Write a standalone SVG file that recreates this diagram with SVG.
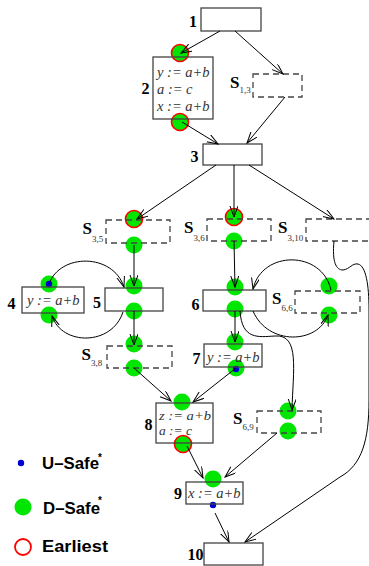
<svg xmlns="http://www.w3.org/2000/svg" width="369" height="566" viewBox="0 0 369 566">
<defs>
<marker id="ah" markerWidth="12" markerHeight="10" refX="11" refY="4" orient="auto" markerUnits="userSpaceOnUse">
<path d="M0,0 L11,4 L0,8" fill="none" stroke="#000" stroke-width="1"/>
</marker>
<style>
.box{fill:none;stroke:#444;stroke-width:1.3}
.sbox{fill:none;stroke:#444;stroke-width:1.3;stroke-dasharray:6,4}
.g{fill:#00e600}
.e{fill:#00e600;stroke:#f00;stroke-width:1.6}
.u{fill:#0000d0}
.lbl{font-family:"Liberation Serif",serif;font-weight:bold;font-size:16px;fill:#000;text-anchor:end}
.s{font-family:"Liberation Serif",serif;font-weight:bold;font-size:17px;fill:#000}
.sub{font-family:"Liberation Serif",serif;font-size:9px;font-weight:normal;fill:#333}
.code{font-family:"Liberation Serif",serif;font-style:italic;font-size:14.5px;fill:#333}
.code2{font-family:"Liberation Serif",serif;font-style:italic;font-size:13px;fill:#333}
.leg{font-family:"Liberation Sans",Arial,sans-serif;font-weight:bold;font-size:16.5px;fill:#000}
.ast{font-family:"Liberation Sans",Arial,sans-serif;font-weight:bold;font-size:10px;fill:#000}
.c{fill:none;stroke:#000;stroke-width:1;marker-end:url(#ah)}
</style>
</defs>
<g id="marks">
<circle class="e" cx="180" cy="53" r="8.5"/>
<circle class="e" cx="180" cy="122" r="8.5"/>
<circle class="e" cx="134" cy="219" r="8.5"/>
<circle class="g" cx="134" cy="245" r="8.5"/>
<circle class="e" cx="234" cy="217" r="8.5"/>
<circle class="g" cx="234" cy="241" r="8.5"/>
<circle class="g" cx="49" cy="284" r="8.5"/>
<circle class="g" cx="49" cy="315" r="8.5"/>
<circle class="g" cx="134" cy="286" r="8.5"/>
<circle class="g" cx="134" cy="311" r="8.5"/>
<circle class="g" cx="134" cy="344" r="8.5"/>
<circle class="g" cx="134" cy="368" r="8.5"/>
<circle class="g" cx="235" cy="287" r="8.5"/>
<circle class="g" cx="235" cy="309" r="8.5"/>
<circle class="g" cx="329" cy="286" r="8.5"/>
<circle class="g" cx="329" cy="315" r="8.5"/>
<circle class="g" cx="235" cy="342" r="8.5"/>
<circle class="g" cx="236" cy="368" r="8.5"/>
<circle class="g" cx="182" cy="402" r="8.5"/>
<circle class="e" cx="183" cy="444" r="8.5"/>
<circle class="g" cx="288" cy="411" r="8.5"/>
<circle class="g" cx="288" cy="431" r="8.5"/>
<circle class="g" cx="213" cy="479" r="8.5"/>
<circle class="u" cx="49" cy="284" r="3.2"/>
<circle class="u" cx="236" cy="369" r="3.2"/>
<circle class="u" cx="213" cy="505" r="3.2"/>
</g>
<g id="n1"><rect class="box" x="201" y="8" width="60" height="23"/><text class="lbl" x="197" y="27">1</text></g>
<g id="n2"><rect class="box" x="153" y="57" width="60" height="62"/><text class="lbl" x="149.5" y="94">2</text>
<text class="code" x="157" y="77">y := a+b</text><text class="code" x="157" y="94">a := c</text><text class="code" x="157" y="111">x := a+b</text></g>
<g id="s13"><rect class="sbox" x="253" y="74" width="49" height="23"/><text class="s" x="230" y="87.5">S<tspan class="sub" dy="5.5">1,3</tspan></text></g>
<g id="n3"><rect class="box" x="203" y="144" width="59" height="21"/><text class="lbl" x="198.5" y="162">3</text></g>
<g id="s35"><rect class="sbox" x="106" y="220" width="64" height="23"/><text class="s" x="82.5" y="233.5">S<tspan class="sub" dy="8">3,5</tspan></text></g>
<g id="s36"><rect class="sbox" x="207" y="219" width="64" height="22"/><text class="s" x="184" y="233">S<tspan class="sub" dy="8">3,6</tspan></text></g>
<g id="s310"><rect class="sbox" x="306" y="219" width="70" height="22"/><text class="s" x="278" y="233">S<tspan class="sub" dy="8">3,10</tspan></text></g>
<g id="n4"><rect class="box" x="22" y="287" width="62" height="26"/><text class="lbl" x="15.5" y="309">4</text><text class="code" x="27" y="305">y := a+b</text></g>
<g id="n5"><rect class="box" x="105" y="288" width="58" height="23"/><text class="lbl" x="101" y="307.5">5</text></g>
<g id="n6"><rect class="box" x="203" y="290" width="63" height="21"/><text class="lbl" x="199.5" y="310">6</text></g>
<g id="s66"><rect class="sbox" x="295" y="291" width="65" height="22"/><text class="s" x="272" y="303.5">S<tspan class="sub" dy="7">6,6</tspan></text></g>
<g id="s38"><rect class="sbox" x="107" y="346" width="65" height="22"/><text class="s" x="81.5" y="359.5">S<tspan class="sub" dy="6.5">3,8</tspan></text></g>
<g id="n7"><rect class="box" x="204" y="344" width="58" height="23"/><text class="lbl" x="200.5" y="363.5">7</text><text class="code" x="207" y="361.5">y := a+b</text></g>
<g id="n8"><rect class="box" x="156" y="403" width="57" height="40"/><text class="lbl" x="152.5" y="429.5">8</text>
<text class="code2" x="159" y="419.5" textLength="52" lengthAdjust="spacingAndGlyphs">z := a+b</text><text class="code2" x="159" y="434.5" textLength="33" lengthAdjust="spacingAndGlyphs">a := c</text></g>
<g id="s69"><rect class="sbox" x="257" y="411" width="64" height="22"/><text class="s" x="233" y="424">S<tspan class="sub" dy="6">6,9</tspan></text></g>
<g id="n9"><rect class="box" x="186" y="482" width="57" height="22"/><text class="lbl" x="182" y="499">9</text><text class="code" x="188" y="497.5">x := a+b</text></g>
<g id="n10"><rect class="box" x="204" y="543" width="59" height="22"/><text class="lbl" x="203.5" y="560">10</text></g>
<g id="connectors">
<path class="c" d="M220,31 L181,53"/>
<path class="c" d="M235,31 L283,74"/>
<path class="c" d="M182,122 L218,144"/>
<path class="c" d="M285,97 L247,143"/>
<path class="c" d="M216,165 L137,219"/>
<path class="c" d="M234,165 L234,217"/>
<path class="c" d="M249,165 L334,219"/>
<path class="c" d="M134,245 L134,286"/>
<path class="c" d="M234,241 L235,287"/>
<path class="c" d="M49,284 C60,253 113,253 124,287"/>
<path class="c" d="M123,312 C112,346 62,346 52,316"/>
<path class="c" d="M134,311 L134,345"/>
<path class="c" d="M331,290 C322,250 262,250 253,289"/>
<path class="c" d="M253,311 C268,346 318,344 328,315"/>
<path class="c" d="M240,311 C242,340 258,337 275,336 C300,334 293,370 292,410"/>
<path class="c" d="M235,311 L235,342"/>
<path class="c" d="M134,368 L171,401"/>
<path class="c" d="M236,368 L193,402"/>
<path class="c" d="M277,433 L225,477"/>
<path class="c" d="M187,446 L203,478"/>
<path class="c" d="M215,513 L229,542"/>
<path class="c" d="M334,241 C332,262 336,270 343,270 C350,269 352,263 358,264 C366,266 369,285 369,310 L369,400 C369,440 362,465 340,477 L245,542"/>
</g>
<g id="legend">
<circle class="u" cx="21" cy="463" r="3.2"/>
<text class="leg" x="42" y="468.5" textLength="57" lengthAdjust="spacingAndGlyphs">U–Safe</text>
<text class="ast" x="98" y="461">*</text>
<circle class="g" cx="23" cy="507" r="8.5"/>
<text class="leg" x="43" y="513.5" textLength="57" lengthAdjust="spacingAndGlyphs">D–Safe</text>
<text class="ast" x="98" y="504">*</text>
<circle cx="23" cy="547" r="8" fill="none" stroke="#f00" stroke-width="1.8"/>
<text class="leg" x="42" y="552" textLength="66" lengthAdjust="spacingAndGlyphs">Earliest</text>
</g>
</svg>
